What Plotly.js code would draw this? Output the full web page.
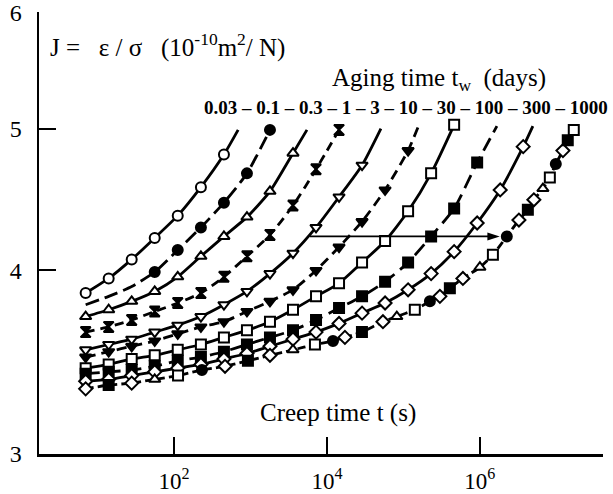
<!DOCTYPE html>
<html>
<head>
<meta charset="utf-8">
<script src="https://cdn.plot.ly/plotly-3.0.1.min.js"></script>
<style>html,body{margin:0;padding:0;background:#fff;}#chart{width:613px;height:494px;}</style>
</head>
<body>
<div id="chart"></div>
<script>
// Aging times (days) - one curve each
var agingTimes = ['0.03', '0.1', '0.3', '1', '3', '10', '30', '100', '300', '1000'];

// Creep times (s) for measured points (doubling grid)
var creepTime = [7, 14, 28, 56, 112, 225, 450, 900, 1800, 3600, 7200, 14400, 28800, 57600,
                 115200, 230400, 460800, 921600, 1843200, 3686400];

// Compliance J (10^-10 m2/N) per aging time, aligned with creepTime
var J_003 = [3.86, 3.95, 4.07, 4.21, 4.36, 4.56, 4.80];
var J_01  = [3.79, 3.84, 3.90, 3.99, 4.13, 4.28, 4.45, 4.66, 4.99];
var J_03  = [3.72, 3.76, 3.81, 3.87, 3.96, 4.09, 4.22, 4.35, 4.53, 4.81];
var J_1   = [3.63, 3.66, 3.70, 3.75, 3.80, 3.86, 3.96, 4.09, 4.23, 4.43, 4.69, 4.99];
var J_3   = [3.53, 3.56, 3.59, 3.63, 3.67, 3.72, 3.79, 3.87, 3.98, 4.11, 4.28, 4.49, 4.72];
var J_10  = [3.49, 3.52, 3.55, 3.58, 3.62, 3.66, 3.69, 3.75, 3.81, 3.88, 4.00, 4.15, 4.32, 4.54, 4.83];
var J_30  = [3.43, 3.45, 3.48, 3.50, 3.53, 3.56, 3.60, 3.64, 3.69, 3.76, 3.84, 3.92, 4.05, 4.19, 4.39, 4.66, 5.03];
var J_100 = [3.40, 3.41, 3.42, 3.44, 3.47, 3.49, 3.52, 3.56, 3.60, 3.64, 3.70, 3.77, 3.84, 3.93, 4.05, 4.22, 4.41, 4.74];
var J_300 = [3.36, 3.37, 3.39, 3.41, 3.43, 3.45, 3.48, 3.51, 3.55, 3.59, 3.63, 3.68, 3.74, 3.80, 3.88, 3.98, 4.12, 4.31, 4.54, 4.86];

// Line continuation past last marker: [t, J] (null = none)
var lineEndT = [690, null, 5480, null, 50800, 155000, null, 1670000, 4930000, null];
var lineEndJ = [4.99, null, 4.99, null, 5.00, 5.01, null, 5.02, 5.02, null];

// 1000 days: superposed master curve
var masterTime = [7, 14, 28, 56, 113, 232, 465, 927, 1800, 3600, 6970, 12000, 17200, 28700, 54000,
                  82000, 141000, 222000, 300000, 405000, 600000, 1000000, 1480000, 2250000, 3240000,
                  4240000, 5080000, 6670000, 8220000, 9840000, 12200000, 14100000, 16900000];
var masterJ = [3.32, 3.34, 3.35, 3.37, 3.39, 3.42, 3.44, 3.47, 3.50, 3.53, 3.56, 3.58, 3.60, 3.63, 3.69,
               3.72, 3.76, 3.81, 3.84, 3.89, 3.95, 4.02, 4.10, 4.22, 4.33, 4.40, 4.47, 4.55, 4.63,
               4.73, 4.83, 4.91, 4.99];

// Horizontal shift arrow (creep time from / to, compliance level)
var shiftT = [6000, 1820000];
var shiftJ = [4.22, 4.22];

// Axis ticks
var xTickVals = [100, 10000, 1000000];
var xTickText = ['10<sup>2</sup>', '10<sup>4</sup>', '10<sup>6</sup>'];
var yTickVals = [3, 4, 5, 6];
var yTickText = ['3', '4', '5', '6'];

// ---------- styles ----------
var seriesJ = [J_003, J_01, J_03, J_1, J_3, J_10, J_30, J_100, J_300];
var styles = [
  {sym: 'circle', fill: '#fff', dash: 'solid', hide: 0},
  {sym: 'circle', fill: '#000', dash: '14px,6px', hide: 3},
  {sym: 'triangle-up', fill: '#fff', dash: 'solid', hide: 0},
  {sym: 'hourglass', fill: '#000', dash: '9px,6px', hide: 0},
  {sym: 'triangle-down', fill: '#fff', dash: 'solid', hide: 0},
  {sym: 'triangle-down', fill: '#000', dash: '10px,6px', hide: 0},
  {sym: 'square', fill: '#fff', dash: 'solid', hide: 0},
  {sym: 'square', fill: '#000', dash: '14px,7px', hide: 0},
  {sym: 'diamond', fill: '#fff', dash: 'solid', hide: 0}
];

var traces = [];
seriesJ.forEach(function (J, k) {
  var st = styles[k];
  var xs = creepTime.slice(0, J.length);
  var ys = J.slice();
  var sizes = J.map(function (v, i) { return i < st.hide ? 0 : 10; });
  if (lineEndT[k] !== null) { xs.push(lineEndT[k]); ys.push(lineEndJ[k]); sizes.push(0); }
  traces.push({
    x: xs, y: ys, type: 'scatter', mode: 'lines+markers', name: agingTimes[k],
    line: {color: '#000', width: 2.8, dash: st.dash, shape: 'spline', smoothing: 0.6},
    marker: {symbol: st.sym, size: sizes, opacity: 1, color: st.fill, line: {color: '#000', width: 2}},
    hoverinfo: 'x+y'
  });
});

var masterSymbols = ['diamond', 'square', 'diamond', 'triangle-up', 'square', 'circle'];
var masterFills = ['#fff', '#000', '#fff', '#fff', '#fff', '#000'];
traces.push({
  x: masterTime, y: masterJ, type: 'scatter', mode: 'lines+markers', name: agingTimes[9],
  line: {color: '#000', width: 2.8, dash: '8px,4px', shape: 'spline', smoothing: 0.6},
  marker: {
    symbol: masterTime.map(function (t, i) { return i === masterTime.length - 1 ? 'square' : masterSymbols[i % masterSymbols.length]; }),
    color: masterTime.map(function (t, i) { return i === masterTime.length - 1 ? '#fff' : masterFills[i % masterFills.length]; }),
    size: 10, opacity: 1, line: {color: '#000', width: 2}
  }
});

// shift arrow
traces.push({
  x: shiftT, y: shiftJ, type: 'scatter', mode: 'lines+markers',
  line: {color: '#000', width: 1.8},
  marker: {symbol: ['circle', 'arrow'], size: [0, 13], angleref: 'previous', color: '#000', opacity: 1,
           line: {width: 0}}
});

var serif = 'Liberation Serif, Times New Roman, serif';
var nb = '\u00A0';
var layout = {
  width: 613, height: 494,
  margin: {l: 39, r: 10, t: 12, b: 40, pad: 0},
  paper_bgcolor: '#fff', plot_bgcolor: '#fff',
  showlegend: false,
  font: {family: serif, size: 21, color: '#000'},
  xaxis: {
    type: 'log', range: [0.235, 7.61],
    tickvals: xTickVals, ticktext: xTickText,
    ticks: 'inside', ticklen: 17, tickwidth: 2, tickcolor: '#000',
    showline: true, linecolor: '#000', linewidth: 2.5,
    showgrid: false, zeroline: false, mirror: false,
    tickfont: {family: serif, size: 23}, ticklabelstandoff: 5
  },
  yaxis: {
    type: 'log', range: [Math.log10(3) - 0.0005, Math.log10(6) + 0.0005],
    tickvals: yTickVals, ticktext: yTickText,
    ticks: 'inside', ticklen: 17, tickwidth: 2, tickcolor: '#000',
    showline: true, linecolor: '#000', linewidth: 2.5,
    showgrid: false, zeroline: false, mirror: false,
    tickfont: {family: serif, size: 24}, ticklabelstandoff: 10
  },
  annotations: [
    {xref: 'paper', yref: 'paper', x: 0.016, y: 0.925, xanchor: 'left', yanchor: 'middle', showarrow: false,
     text: 'J' + nb + '=' + nb + nb + nb + '\u03B5 / \u03C3' + nb + nb + nb + '(10<sup>-10</sup>m<sup>2</sup>/ N)',
     font: {family: serif, size: 25}},
    {xref: 'paper', yref: 'paper', x: 0.516, y: 0.848, xanchor: 'left', yanchor: 'middle', showarrow: false,
     text: 'Aging time t<sub>w</sub>' + nb + nb + '(days)', font: {family: serif, size: 25}},
    {xref: 'paper', yref: 'paper', x: 0.650, y: 0.785, xanchor: 'center', yanchor: 'middle', showarrow: false,
     text: '<b>' + agingTimes.join(' \u2013 ') + '</b>', font: {family: serif, size: 19}},
    {xref: 'paper', yref: 'paper', x: 0.530, y: 0.093, xanchor: 'center', yanchor: 'middle', showarrow: false,
     text: 'Creep time t (s)', font: {family: serif, size: 25}}
  ]
};

Plotly.newPlot('chart', traces, layout, {displayModeBar: false, staticPlot: true});
</script>
</body>
</html>
